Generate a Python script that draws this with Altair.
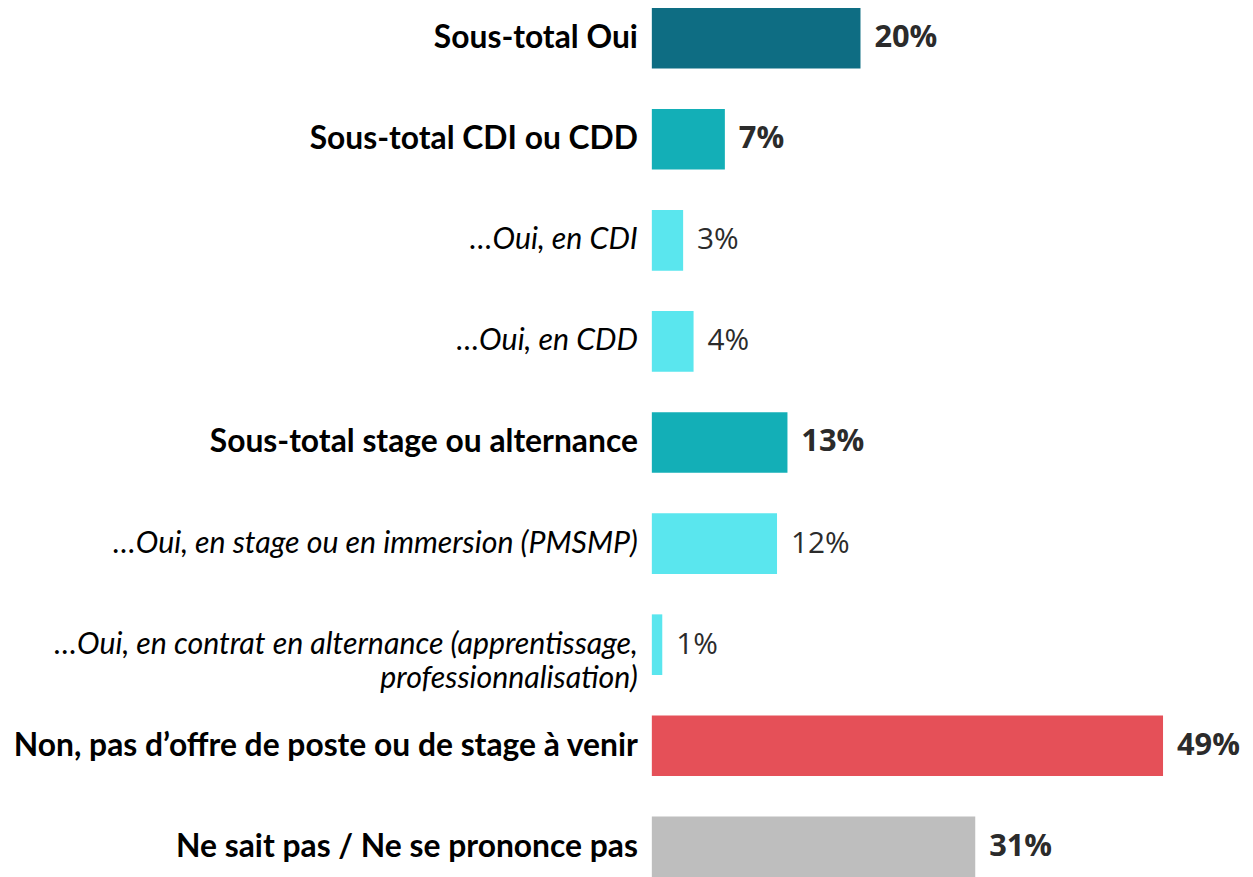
import altair as alt
import pandas as pd

categories = [
    "Sous-total Oui",
    "Sous-total CDI ou CDD",
    "…Oui, en CDI",
    "…Oui, en CDD",
    "Sous-total stage ou alternance",
    "…Oui, en stage ou en immersion (PMSMP)",
    "…Oui, en contrat en alternance (apprentissage,\nprofessionnalisation)",
    "Non, pas d’offre de poste ou de stage à venir",
    "Ne sait pas / Ne se prononce pas",
]
values = [20, 7, 3, 4, 13, 12, 1, 49, 31]
groups = ["oui", "sub", "detail", "detail", "sub", "detail", "detail", "non", "nsp"]
kinds = ["total", "total", "detail", "detail", "total", "detail", "detail", "total", "total"]

group_domain = ["oui", "sub", "detail", "non", "nsp"]
group_colors = ["#0E6D83", "#13AFB7", "#5AE6EE", "#E55058", "#BEBEBE"]

df = pd.DataFrame({
    "cat": categories,
    "value": values,
    "group": groups,
    "kind": kinds,
})
df["label"] = df["value"].astype(str) + "%"

y = alt.Y("cat:N", sort=categories, axis=None,
          scale=alt.Scale(range=[-3, 872], paddingInner=0.4, paddingOuter=0))
x = alt.X("value:Q", axis=None, scale=alt.Scale(domain=[0, 50]))

base = alt.Chart(df)

bars = base.mark_bar().encode(
    x=x, y=y,
    color=alt.Color("group:N", scale=alt.Scale(domain=group_domain, range=group_colors), legend=None),
)

cat_bold = base.transform_filter(alt.datum.kind == "total").mark_text(
    align="right", baseline="middle", font="Lato", fontSize=32, fontWeight="bold", color="#000000"
).encode(y=y, x=alt.value(-14), text="cat:N")

cat_ital = base.transform_filter(alt.datum.kind == "detail").mark_text(
    align="right", baseline="middle", font="Lato", fontSize=30.5, fontStyle="italic", color="#000000",
    lineBreak="\n", lineHeight=35
).encode(y=y, x=alt.value(-14), text="cat:N")

val_bold = base.transform_filter(alt.datum.kind == "total").mark_text(
    align="left", baseline="middle", dx=14, font="Open Sans", fontSize=31, fontWeight="bold", color="#2B2B2B"
).encode(y=y, x=x, text="label:N")

val_reg = base.transform_filter(alt.datum.kind == "detail").mark_text(
    align="left", baseline="middle", dx=14, font="Open Sans", fontSize=30, color="#2B2B2B"
).encode(y=y, x=x, text="label:N")

chart = alt.layer(bars, cat_bold, cat_ital, val_bold, val_reg).properties(
    width=525, height=869,
    autosize=alt.AutoSizeParams(type="none"),
    padding={"left": 648, "top": 0, "right": 72, "bottom": 0},
).configure_view(stroke=None)

chart.save("out.html", embed_options={"renderer": "svg", "actions": False})
